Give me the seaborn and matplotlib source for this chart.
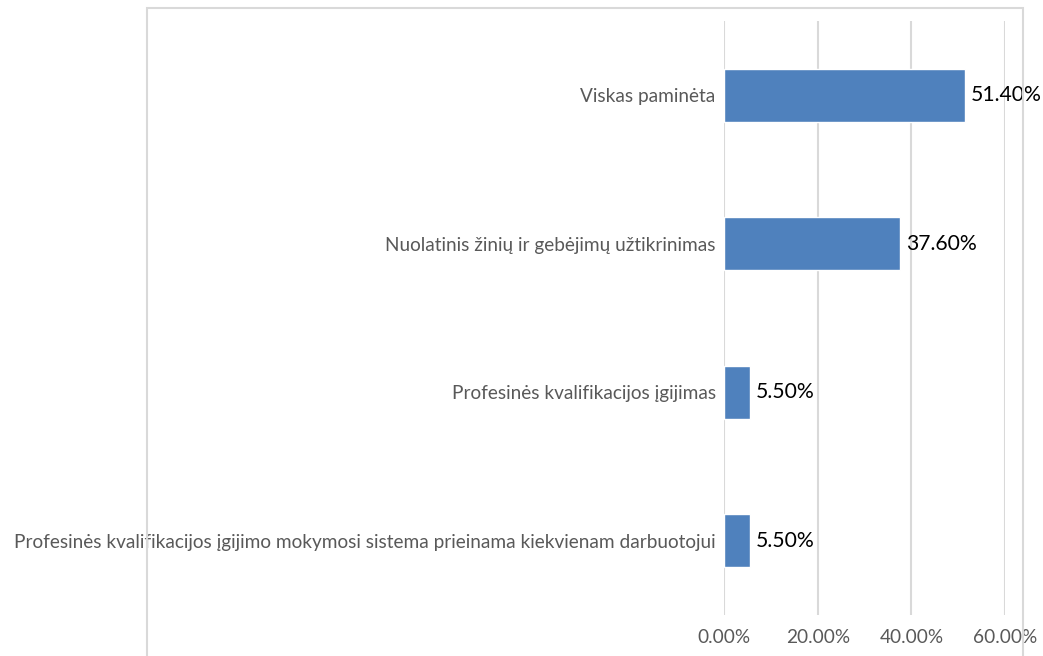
import pandas as pd
import seaborn as sns
import matplotlib.pyplot as plt
from matplotlib.patches import Rectangle
from matplotlib.ticker import PercentFormatter

categories = [
    "Viskas paminėta",
    "Nuolatinis žinių ir gebėjimų užtikrinimas",
    "Profesinės kvalifikacijos įgijimas",
    "Profesinės kvalifikacijos įgijimo mokymosi sistema prieinama kiekvienam darbuotojui",
]
values = [0.514, 0.376, 0.055, 0.055]
labels = ["51.40%", "37.60%", "5.50%", "5.50%"]

df = pd.DataFrame({"category": categories, "value": values})

sns.set_style("white")
plt.rcParams["font.family"] = ["Lato", "DejaVu Sans"]

fig = plt.figure(figsize=(10.43, 6.56), dpi=100)
ax = fig.add_axes([724 / 1043, 41 / 656, 281 / 1043, 594 / 656])

# chart area frame (cut off at the bottom in the original)
fig.patches.append(Rectangle((147 / 1043, -0.05), (1023 - 147) / 1043, 1.05 - 8 / 656,
                             transform=fig.transFigure, fill=False,
                             edgecolor="#d9d9d9", linewidth=1.5))

sns.barplot(data=df, x="value", y="category", color="#4f81bd", saturation=1,
            width=0.355, ax=ax)

ax.set_xlim(0, 0.6)
ax.set_xticks([0, 0.2, 0.4, 0.6])
ax.xaxis.set_major_formatter(PercentFormatter(1.0, decimals=2))
ax.grid(axis="x", color="#d9d9d9", linewidth=1.5)
ax.set_axisbelow(True)
for s in ax.spines.values():
    s.set_visible(False)
ax.tick_params(axis="both", length=0, colors="#595959", labelsize=13.7)
ax.tick_params(axis="x", pad=10)
ax.tick_params(axis="y", pad=6)
ax.set_xlabel("")
ax.set_ylabel("")

for i, (v, lab) in enumerate(zip(values, labels)):
    ax.annotate(lab, (v, i), xytext=(4, 0), textcoords="offset points",
                va="center", ha="left", fontsize=15.2, color="black")

fig.savefig("out.png", dpi=100)
